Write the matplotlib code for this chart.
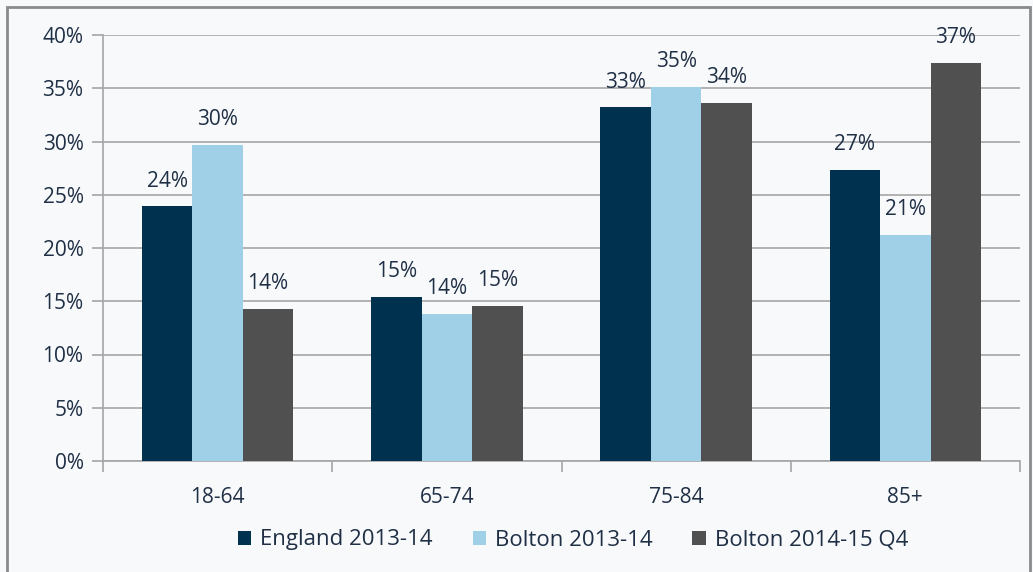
import matplotlib
matplotlib.use("Agg")
import matplotlib.pyplot as plt
import numpy as np
from matplotlib.patches import Rectangle

categories = ["18-64", "65-74", "75-84", "85+"]
series_names = ["England 2013-14", "Bolton 2013-14", "Bolton 2014-15 Q4"]
england = [23.9, 15.4, 33.2, 27.3]
bolton_1314 = [29.7, 13.8, 35.1, 21.2]
bolton_1415 = [14.3, 14.6, 33.6, 37.4]
labels_england = ["24%", "15%", "33%", "27%"]
labels_bolton_1314 = ["30%", "14%", "35%", "21%"]
labels_bolton_1415 = ["14%", "15%", "34%", "37%"]
yticks = [0, 5, 10, 15, 20, 25, 30, 35, 40]

colors = ["#00314f", "#9fd0e7", "#505050"]
text_color = "#1f2f45"
bg = "#f8f9fa"

plt.rcParams['font.family'] = ['Open Sans', 'DejaVu Sans']

fig = plt.figure(figsize=(10.33, 5.72), dpi=100, facecolor=bg)
# outer frame
fig.patches.append(Rectangle((7/1033, -0.01), (1030-7)/1033, 1 - 7/572 + 0.01,
                             transform=fig.transFigure, fill=False,
                             edgecolor="#8a8a8a", linewidth=2))

ax = fig.add_axes([103/1033, 1 - 461/572, (1020-103)/1033, (461-35)/572])
ax.set_facecolor(bg)

fs = 15
x = np.arange(len(categories))
w = 0.22
all_series = [england, bolton_1314, bolton_1415]
all_labels = [labels_england, labels_bolton_1314, labels_bolton_1415]
for i, (vals, labs, c, name) in enumerate(zip(all_series, all_labels, colors, series_names)):
    xs = x + (i - 1) * w
    ax.bar(xs, vals, width=w, color=c, label=name, zorder=3)
    for xi, v, lab in zip(xs, vals, labs):
        ax.text(xi, v + 1.4, lab, ha="center", va="bottom", fontsize=fs,
                color=text_color, zorder=4)

ax.set_xlim(-0.5, len(categories) - 0.5)
ax.set_ylim(0, 40)
ax.set_yticks(yticks)
ax.set_yticklabels([f"{t}%" for t in yticks], fontsize=fs, color=text_color)
ax.yaxis.grid(True, color="#a6a6a6", linewidth=1.2, zorder=0)
ax.set_axisbelow(True)

ax.set_xticks(x)
ax.set_xticklabels(categories, fontsize=fs, color=text_color)
ax.set_xticks(np.arange(-0.5, len(categories)), minor=True)
ax.tick_params(axis="x", which="major", length=0, pad=19)
ax.tick_params(axis="x", which="minor", length=8, color="#a6a6a6", width=1.2)
ax.tick_params(axis="y", length=8, color="#a6a6a6", width=1.2, pad=6)

for s in ["top", "right"]:
    ax.spines[s].set_visible(False)
ax.spines["left"].set_color("#a6a6a6")
ax.spines["bottom"].set_color("#a6a6a6")
ax.spines["left"].set_linewidth(1.2)
ax.spines["bottom"].set_linewidth(1.2)

leg = fig.legend(loc="center", bbox_to_anchor=(573/1033, 1 - 540/572), ncol=3,
                 frameon=False, fontsize=16, handlelength=0.6, handleheight=0.6,
                 handletextpad=0.4, columnspacing=1.8)
for t in leg.get_texts():
    t.set_color(text_color)

fig.savefig("out.png", dpi=100, facecolor=bg)
